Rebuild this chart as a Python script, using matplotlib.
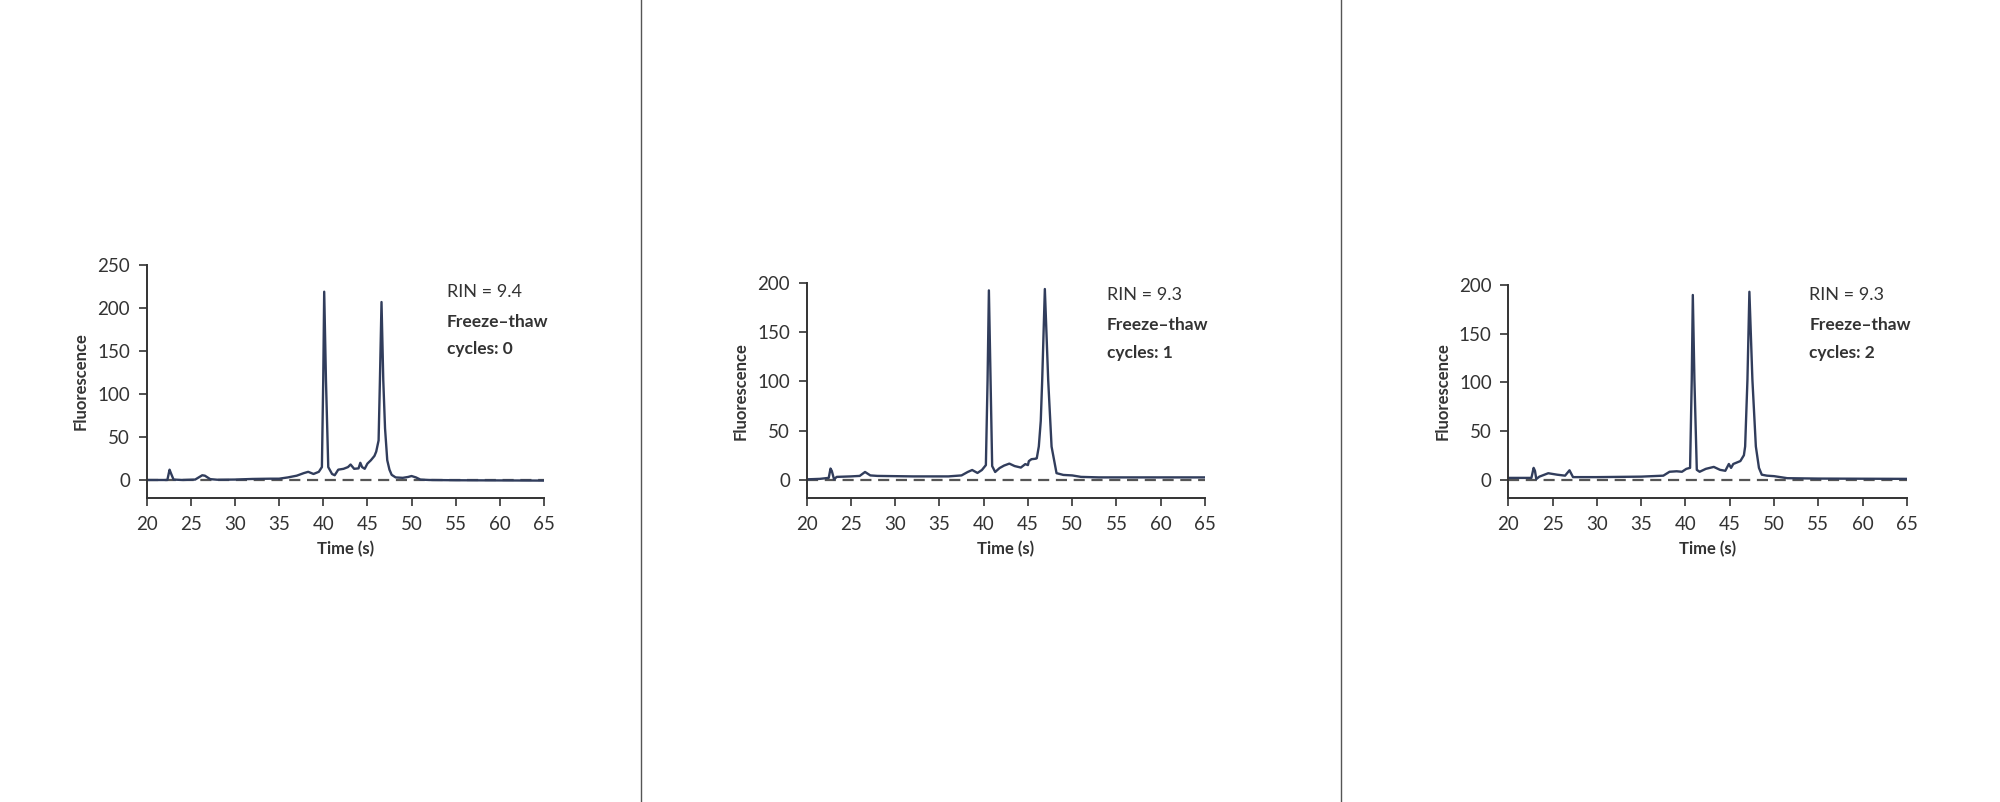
import matplotlib
matplotlib.use('Agg')
import matplotlib.pyplot as plt

plt.rcParams['font.family'] = ['Lato', 'DejaVu Sans']

# electropherogram traces (time in s, fluorescence)
t0 = [20.0, 22.35, 22.6, 22.75, 23.05, 24.0, 25.5, 26.3, 26.6, 27.2, 28.0, 30.0, 32.0, 34.0,
      35.0, 36.0, 37.0, 37.8, 38.3, 38.9, 39.5, 39.85, 40.0, 40.11, 40.31, 40.57, 41.0, 41.3,
      41.7, 42.3, 42.8, 43.1, 43.5, 44.0, 44.2, 44.4, 44.7, 45.0, 45.4, 45.8, 46.0, 46.27,
      46.42, 46.6, 46.8, 47.0, 47.25, 47.5, 47.75, 48.2, 49.0, 49.6, 50.0, 50.5, 51.0, 52.0,
      55.0, 60.0, 65.0]
f0 = [0.0, 0.0, 12.0, 8.0, 0.5, 0.0, 0.5, 5.5, 5.0, 1.0, 0.3, 0.5, 1.2, 1.5,
      1.5, 3.0, 5.0, 8.0, 9.5, 7.0, 9.5, 15.0, 116.0, 219.0, 116.0, 15.0, 7.0, 5.5,
      12.0, 13.0, 15.0, 18.0, 13.0, 13.5, 20.0, 15.0, 13.0, 19.0, 23.0, 28.0, 33.0, 46.0,
      116.0, 207.0, 116.0, 60.0, 23.0, 12.0, 6.0, 3.0, 2.5, 3.5, 4.6, 3.0, 0.5, 0.0,
      -0.3, -0.5, -0.7]

t1 = [20.0, 21.5, 22.5, 22.7, 22.85, 23.1, 23.4, 25.0, 26.0, 26.6, 27.2, 28.0, 32.0, 36.0,
      37.5, 38.2, 38.7, 39.3, 39.8, 40.25, 40.44, 40.59, 40.78, 40.96, 41.3, 41.8, 42.3, 42.9,
      43.5, 44.2, 44.7, 45.0, 45.1, 45.4, 45.9, 46.0, 46.23, 46.45, 46.61, 46.91, 47.29, 47.67,
      48.23, 49.0, 50.0, 51.0, 53.0, 65.0]
f1 = [0.5, 1.0, 2.0, 11.5, 9.0, 0.5, 3.0, 3.5, 4.0, 8.0, 4.5, 4.0, 3.5, 3.5,
      4.5, 8.0, 10.0, 7.0, 10.0, 15.0, 101.0, 192.6, 101.0, 14.0, 8.0, 12.0, 14.5, 16.5,
      14.0, 12.5, 16.0, 15.0, 19.0, 21.0, 21.5, 22.0, 34.0, 60.0, 101.0, 194.0, 101.0, 33.8,
      6.8, 5.0, 4.5, 3.0, 2.5, 2.5]

t2 = [20.0, 22.6, 22.85, 23.0, 23.15, 23.5, 24.5, 25.5, 26.4, 26.9, 27.3, 30.0, 35.0, 37.5,
      38.2, 39.0, 39.6, 40.1, 40.52, 40.71, 40.83, 41.01, 41.28, 41.6, 42.3, 43.2, 43.9, 44.5,
      44.9, 45.15, 45.4, 46.2, 46.6, 46.74, 47.0, 47.22, 47.56, 47.95, 48.3, 48.62, 49.2, 50.0,
      51.5, 55.0, 65.0]
f2 = [1.7, 1.7, 12.0, 9.0, 0.5, 3.0, 6.5, 5.0, 4.0, 9.5, 2.5, 2.5, 3.0, 4.0,
      8.0, 8.5, 8.0, 11.0, 12.0, 102.6, 189.7, 102.6, 10.0, 8.0, 11.0, 13.0, 10.0, 9.0,
      16.0, 12.0, 16.0, 19.0, 25.0, 34.0, 102.6, 193.0, 102.6, 34.0, 12.0, 5.0, 4.0, 3.5,
      1.4, 1.0, 0.7]

rin = ['9.4', '9.3', '9.3']
cycles = ['0', '1', '2']
ylims = [(-21, 250), (-18.5, 200), (-19, 200)]
yticks = [[0, 50, 100, 150, 200, 250], [0, 50, 100, 150, 200], [0, 50, 100, 150, 200]]
xticks = [20, 25, 30, 35, 40, 45, 50, 55, 60, 65]

line_col = '#313d5c'
txt_col = '#333333'

fig = plt.figure(figsize=(20, 8.02), dpi=100)
fig.patch.set_facecolor('white')

# axes rects in figure fractions
rects = [[0.0733, 0.379, 0.1987, 0.2905],
         [0.4033, 0.379, 0.1992, 0.268],
         [0.7542, 0.379, 0.1992, 0.2657]]
# text anchors (left x, baselines of the three lines) in figure fractions
txt_x = [0.2234, 0.5534, 0.9047]
txt_y = [(0.630, 0.592, 0.558), (0.626, 0.588, 0.554), (0.626, 0.588, 0.554)]

for i, (t, f) in enumerate([(t0, f0), (t1, f1), (t2, f2)]):
    ax = fig.add_axes(rects[i])
    ax.axhline(0, color='#555555', lw=1.6, dashes=(5, 3), zorder=1)
    ax.plot(t, f, color=line_col, lw=1.7, zorder=2)
    ax.set_xlim(20, 65)
    ax.set_ylim(*ylims[i])
    ax.set_xticks(xticks)
    ax.set_yticks(yticks[i])
    for s in ['top', 'right']:
        ax.spines[s].set_visible(False)
    for s in ['left', 'bottom']:
        ax.spines[s].set_linewidth(1.4)
        ax.spines[s].set_color(txt_col)
    ax.tick_params(axis='both', direction='out', length=6, width=1.2, color=txt_col,
                   labelsize=13.5, labelcolor=txt_col)
    ax.tick_params(axis='x', pad=7)
    ax.tick_params(axis='y', pad=6)
    ax.set_xlabel('Time (s)', fontsize=12, fontweight='bold', color=txt_col, labelpad=6)
    ax.set_ylabel('Fluorescence', fontsize=12, fontweight='bold', color=txt_col, labelpad=6)

    fig.text(txt_x[i], txt_y[i][0], 'RIN = ' + rin[i], fontsize=13, color=txt_col,
             va='baseline', ha='left')
    fig.text(txt_x[i], txt_y[i][1], 'Freeze\u2013thaw', fontsize=12.5, fontweight='bold',
             color=txt_col, va='baseline', ha='left')
    fig.text(txt_x[i], txt_y[i][2], 'cycles: ' + cycles[i], fontsize=12.5, fontweight='bold',
             color=txt_col, va='baseline', ha='left')

# thin vertical separators between the panels
for xd in [0.3205, 0.6705]:
    fig.add_artist(plt.Line2D([xd, xd], [0, 1], transform=fig.transFigure,
                              color='#555555', lw=1.0))

fig.savefig('out.png', dpi=100, facecolor='white')
